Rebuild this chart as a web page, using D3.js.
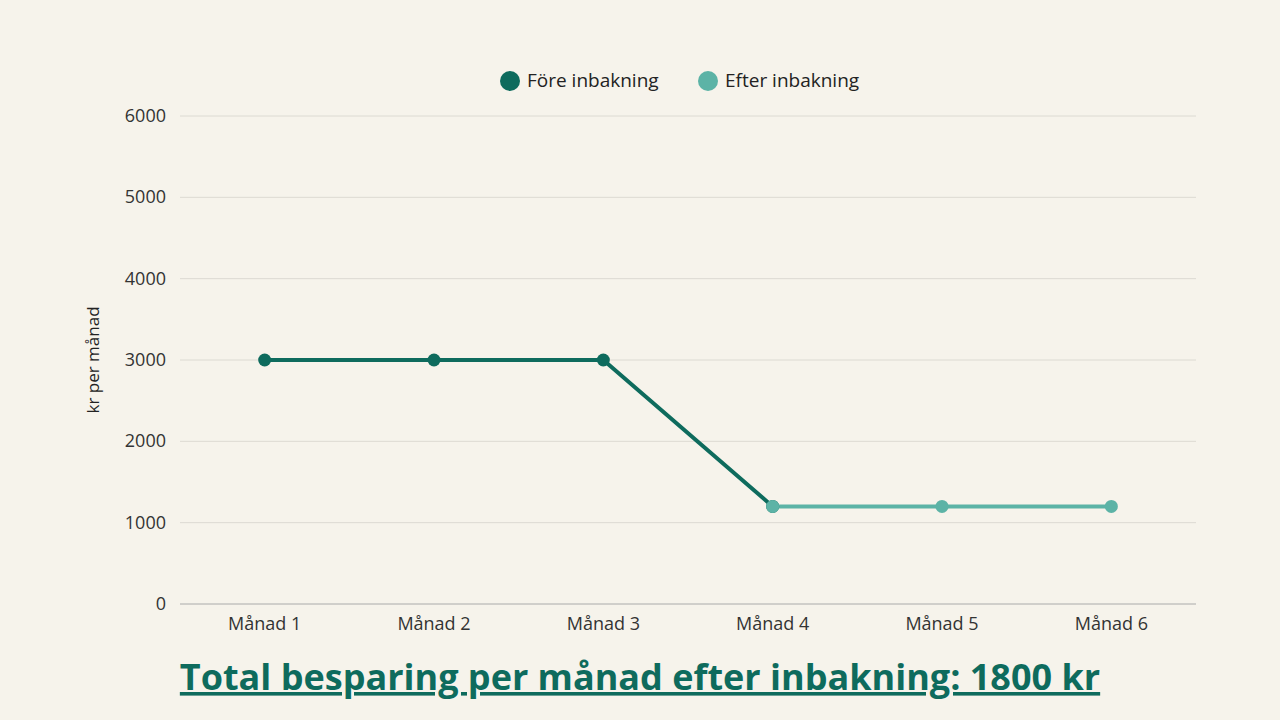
<!DOCTYPE html>
<html><head><meta charset="utf-8">
<script src="https://cdn.jsdelivr.net/npm/d3@7"></script>
<style>body{margin:0;background:#f6f3eb;}svg{display:block;font-family:"Open Sans",sans-serif;}</style>
</head><body><svg id="c" width="1280" height="720"></svg>
<script>
const categories=["Månad 1","Månad 2","Månad 3","Månad 4","Månad 5","Månad 6"];
const foreValues=[3000,3000,3000,1200,null,null];
const efterValues=[null,null,null,1200,1200,1200];
const yTicks=[0,1000,2000,3000,4000,5000,6000];
const seriesNames=["Före inbakning","Efter inbakning"];
const colors=["#0e6b5d","#5cb3a6"];
const svg=d3.select("#c");
svg.append("rect").attr("width",1280).attr("height",720).attr("fill","#f6f3eb");
const x=d3.scalePoint().domain(categories).range([180,1196]).padding(0.5);
const y=d3.scaleLinear().domain([0,6000]).range([604,116]);
const g=svg.append("g");
g.selectAll("line.grid").data(yTicks).join("line").attr("x1",180).attr("x2",1196)
 .attr("y1",d=>y(d)).attr("y2",d=>y(d)).attr("stroke",d=>d===0?"#aaa":"#dcdad2").attr("stroke-width",1);
g.selectAll("text.yt").data(yTicks).join("text").attr("x",166).attr("y",d=>y(d)+6)
 .attr("text-anchor","end").attr("font-size",18).attr("fill","#333").text(d=>d);
g.selectAll("text.xt").data(categories).join("text").attr("x",d=>x(d)).attr("y",630)
 .attr("text-anchor","middle").attr("font-size",18).attr("fill","#333").text(d=>d);
svg.append("text").attr("transform","translate(99,360) rotate(-90)").attr("text-anchor","middle")
 .attr("font-size",17).attr("fill","#222").text("kr per månad");
[foreValues,efterValues].forEach((vals,i)=>{
 const pts=categories.map((c,j)=>({c,v:vals[j]})).filter(p=>p.v!=null);
 svg.append("path").datum(pts).attr("fill","none").attr("stroke",colors[i]).attr("stroke-width",4)
  .attr("d",d3.line().x(p=>x(p.c)).y(p=>y(p.v)));
});
[foreValues,efterValues].forEach((vals,i)=>{
 const pts=categories.map((c,j)=>({c,v:vals[j]})).filter(p=>p.v!=null);
 svg.selectAll(null).data(pts).join("circle").attr("cx",p=>x(p.c)).attr("cy",p=>y(p.v)).attr("r",6.5).attr("fill",colors[i]);
});
const leg=[{x:510},{x:708}];
seriesNames.forEach((n,i)=>{
 svg.append("circle").attr("cx",leg[i].x).attr("cy",81).attr("r",10).attr("fill",colors[i]);
 svg.append("text").attr("x",leg[i].x+17).attr("y",87).attr("font-size",19).attr("fill","#222").text(n);
});
svg.append("text").attr("x",640).attr("y",690).attr("text-anchor","middle").attr("font-size",36)
 .attr("font-weight","bold").attr("fill","#0e6b5d").attr("text-decoration","underline")
 .text("Total besparing per månad efter inbakning: 1800 kr");
</script></body></html>
